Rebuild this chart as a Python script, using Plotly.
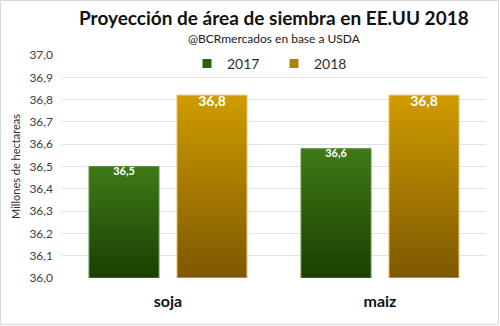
import plotly.graph_objects as go

# Superficie proyectada (millones de hectáreas)
cultivos = ["soja", "maiz"]
anios = ["2017", "2018"]
valores_2017 = [36.5, 36.58]
valores_2018 = [36.82, 36.82]
tamano_etiqueta = {"2017": 11, "2018": 14}

base = 36.0
ancho_barra = 0.33
separacion = 0.085

colores = {
    "2017": {"claro": "#3f7a16", "oscuro": "#1b3f02", "borde": "#5b8f3a", "leyenda": "#2e5e0e"},
    "2018": {"claro": "#d09c00", "oscuro": "#7d5800", "borde": "#e0c060", "leyenda": "#b08400"},
}

series = {"2017": valores_2017, "2018": valores_2018}
desplazamiento = {"2017": -(ancho_barra + separacion) / 2, "2018": (ancho_barra + separacion) / 2}

fig = go.Figure()

for anio in anios:
    c = colores[anio]
    for i, (cultivo, v) in enumerate(zip(cultivos, series[anio])):
        xc = i + desplazamiento[anio]
        x0, x1 = xc - ancho_barra / 2, xc + ancho_barra / 2
        fig.add_trace(go.Scatter(
            x=[x0, x0, x1, x1, x0],
            y=[base, v, v, base, base],
            mode="lines",
            fill="toself",
            fillgradient=dict(type="vertical",
                              colorscale=[[0, c["oscuro"]], [1, c["claro"]]]),
            line=dict(width=1, color=c["borde"]),
            legendgroup=anio,
            showlegend=False,
            hoverinfo="skip",
        ))
    # entrada de leyenda con marcador cuadrado
    fig.add_trace(go.Scatter(
        x=[None], y=[None], mode="markers",
        marker=dict(symbol="square", size=9, color=c["leyenda"]),
        name=anio, legendgroup=anio, showlegend=True,
    ))
    # etiquetas de valor dentro de cada barra
    fig.add_trace(go.Scatter(
        x=[i + desplazamiento[anio] for i in range(len(cultivos))],
        y=series[anio],
        mode="text",
        text=[f"<b>{v:.1f}</b>".replace(".", ",") for v in series[anio]],
        textposition="bottom center",
        textfont=dict(family="Lato", size=tamano_etiqueta[anio], color="white"),
        showlegend=False,
        hoverinfo="skip",
    ))

W, H = 500, 326
ml, mr, mt, mb = 62, 14, 55, 48
pw, ph = W - ml - mr, H - mt - mb

fig.update_layout(
    width=W, height=H,
    margin=dict(l=ml, r=mr, t=mt, b=mb),
    paper_bgcolor="white",
    plot_bgcolor="white",
    separators=",.",
    font=dict(family="Lato", color="#404040"),
    annotations=[
        dict(text="<b>Proyección de área de siembra en EE.UU 2018</b>",
             xref="paper", yref="paper", x=0.5, xanchor="center",
             y=1 + (mt - 18) / ph, yanchor="middle", showarrow=False,
             font=dict(family="Lato", size=19, color="#111111")),
        dict(text="@BCRmercados en base a USDA",
             xref="paper", yref="paper", x=0.5, xanchor="center",
             y=1 + (mt - 38) / ph, yanchor="middle", showarrow=False,
             font=dict(family="Lato", size=12, color="#202020")),
    ],
    legend=dict(
        orientation="h",
        x=0.5, xanchor="center",
        y=0.96, yanchor="middle",
        font=dict(family="Lato", size=14, color="#303030"),
        bgcolor="rgba(0,0,0,0)",
        itemwidth=30,
        entrywidth=42,
        traceorder="normal",
    ),
    xaxis=dict(
        range=[-0.5, 1.5],
        tickvals=list(range(len(cultivos))),
        ticktext=[f"<b>{c}</b>" for c in cultivos],
        tickfont=dict(family="Lato", size=16, color="#111111"),
        showgrid=False, zeroline=False, showline=False,
        ticks="", ticklabelstandoff=12,
        fixedrange=True,
    ),
    yaxis=dict(
        range=[36.0, 37.0],
        dtick=0.1,
        tickformat=".1f",
        tickfont=dict(family="Lato", size=12, color="#404040"),
        showgrid=True, gridcolor="#e3e3e3", gridwidth=1,
        zeroline=False, showline=False,
        ticks="", ticklabelstandoff=8,
        title=dict(text="Millones de hectareas",
                   font=dict(family="Lato", size=11, color="#303030"),
                   standoff=6),
        fixedrange=True,
    ),
    shapes=[dict(
        type="rect", xref="paper", yref="paper",
        x0=-(ml - 0.5) / pw, x1=1 + (mr - 1.5) / pw,
        y0=-(mb - 1.5) / ph, y1=1 + (mt - 0.5) / ph,
        line=dict(color="#d9d9d9", width=1),
        fillcolor="rgba(0,0,0,0)",
        layer="below",
    )],
)

fig.write_html("out.html")
